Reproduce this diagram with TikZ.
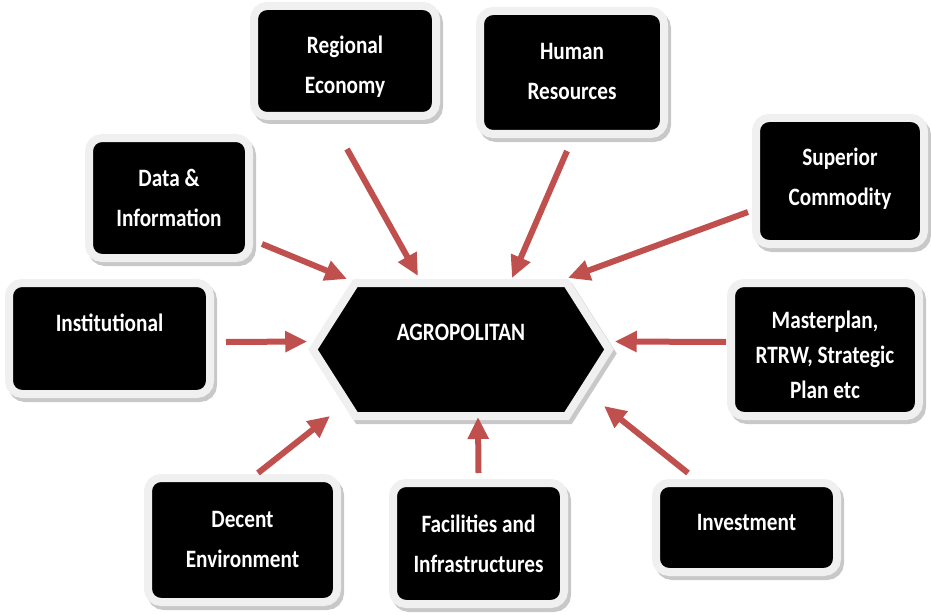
\documentclass[tikz,border=0pt]{standalone}
\usepackage{fontspec}
\newfontfamily\calib{Carlito}[FakeStretch=0.85]
\usetikzlibrary{shapes.symbols,arrows.meta,shadows}
\definecolor{brick}{RGB}{192,80,77}
\definecolor{frame}{RGB}{240,240,240}
\definecolor{shade}{RGB}{200,200,200}

\begin{document}
\begin{tikzpicture}[x=1pt,y=-1pt]
  \tikzstyle{factor}=[rectangle, rounded corners=13pt, fill=black, draw=frame, line width=8pt,
    text=white, align=center, inner sep=0pt, text height=70pt,
    font=\calib\bfseries\fontsize{25}{40}\selectfont,
    drop shadow={shadow xshift=3pt, shadow yshift=-4pt, fill=shade, draw=shade, line width=8pt, opacity=1}]
  \tikzstyle{hub}=[signal, signal to=east and west, signal pointer angle=115, fill=black,
    draw=frame, line width=8pt, text=white, inner sep=0pt, text height=18pt,
    font=\calib\bfseries\fontsize{25}{40}\selectfont,
    drop shadow={shadow xshift=3pt, shadow yshift=-4pt, fill=shade, draw=shade, line width=8pt, opacity=1}]
  \tikzstyle{push}=[draw=brick, line width=6pt, -{Triangle[length=22pt,width=20pt]}]
  \useasboundingbox (0,0) rectangle (931,615);

  \node[hub, minimum width=296pt, minimum height=133pt, text depth=37pt] (agro) at (461,349.5) {AGROPOLITAN};

  \node[factor, minimum width=182pt, minimum height=110pt, text depth=4pt] (economy) at (345,61) {Regional\\Economy};
  \node[factor, minimum width=184pt, minimum height=123pt, text depth=15pt] (human) at (572,72.5) {Human\\Resources};
  \node[factor, minimum width=160pt, minimum height=120pt, text depth=14pt] (data) at (169,198) {Data \&\\Information};
  \node[factor, minimum width=168pt, minimum height=126pt, text depth=22pt] (superior) at (840,181) {Superior\\Commodity};
  \node[factor, minimum width=201pt, minimum height=111pt, text height=18pt, text depth=33pt] (institution) at (109.5,338.5) {Institutional};
  \node[factor, minimum width=188pt, minimum height=133pt, text height=100pt, text depth=3pt,
    font=\calib\bfseries\fontsize{25}{35}\selectfont] (master) at (825,349.5) {Masterplan,\\RTRW, Strategic\\Plan etc};
  \node[factor, minimum width=189pt, minimum height=124pt, text depth=16pt] (decent) at (242.5,540) {Decent\\Environment};
  \node[factor, minimum width=171pt, minimum height=121pt, text depth=13pt] (facility) at (478.5,543.5) {Facilities and\\Infrastructures};
  \node[factor, minimum width=181pt, minimum height=89pt, text height=18pt, text depth=13pt] (invest) at (746.5,527.5) {Investment};

  % arrows into the hub
  \draw[push] ([shift={(9,-18)}]data.south east) -- ([shift={(-114,0)}]agro.north);
  \draw[push] ([shift={(2,29)}]economy.south) -- ([shift={(-43,-3)}]agro.north);
  \draw[push] ([shift={(-5,13)}]human.south) -- ([shift={(51,-1)}]agro.north);
  \draw[push] ([shift={(-4,31)}]superior.west) -- ([shift={(107,-1)}]agro.north);
  \draw[push] ([shift={(12,3.5)}]institution.east) -- ([shift={(-1,-8)}]agro.west);
  \draw[push] ([shift={(-1,-7.5)}]master.west) -- ([shift={(1,-8)}]agro.east);
  \draw[push] ([shift={(15.5,-1)}]decent.north) -- ([shift={(-131,-4)}]agro.south);
  \draw[push] ([shift={(0,-6)}]facility.north) -- ([shift={(17,-3)}]agro.south);
  \draw[push] ([shift={(-58.5,-6)}]invest.north) -- ([shift={(143,-14)}]agro.south);
\end{tikzpicture}
\end{document}
